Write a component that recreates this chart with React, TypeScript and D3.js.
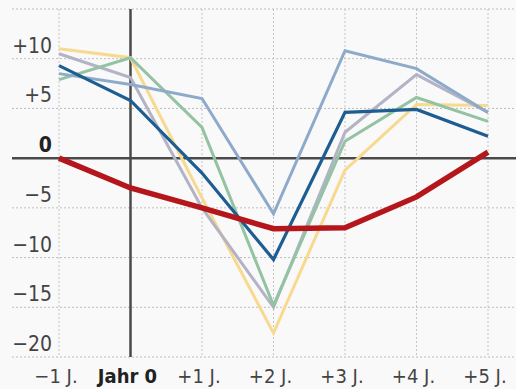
import React from "react";
import * as d3 from "d3";

// Year relative to the event
const years = ["-1", "0", "+1", "+2", "+3", "+4", "+5"];
const yearLabels = ["\u22121 J.", "Jahr 0", "+1 J.", "+2 J.", "+3 J.", "+4 J.", "+5 J."];

// y-axis ticks
const yTicks = [10, 5, 0, -5, -10, -15, -20];
const yTickLabels = ["+10", "+5", "0", "\u22125", "\u221210", "\u221215", "\u221220"];
const gridTicks = [15, 10, 5, -5, -10, -15, -20];

// Series values (percent change)
const seriesYellow = [11.0, 10.1, -4.0, -17.6, -1.2, 5.4, 5.3];
const seriesGray = [10.5, 8.1, -5.0, -15.0, 2.6, 8.4, 4.6];
const seriesGreen = [7.9, 10.1, 3.1, -14.8, 1.7, 6.1, 3.7];
const seriesLightBlue = [8.5, 7.4, 6.0, -5.6, 10.8, 9.0, 4.6];
const seriesDarkBlue = [9.3, 5.8, -1.5, -10.2, 4.6, 4.9, 2.2];
const seriesRed = [0, -3.0, -5.0, -7.1, -7.0, -3.9, 0.6];

const W = 516;
const H = 389;

const x = d3.scalePoint<string>().domain(years).range([59, 488]);
const y = d3.scaleLinear().domain([-20, 15]).range([357, 9]);

const line = d3
  .line<number>()
  .x((_, i) => x(years[i]) as number)
  .y((d) => y(d));

const series = [
  { values: seriesYellow, color: "#f7d98f", width: 3 },
  { values: seriesGray, color: "#b3b3c6", width: 3 },
  { values: seriesGreen, color: "#93c3a3", width: 3 },
  { values: seriesLightBlue, color: "#8eaacb", width: 3 },
  { values: seriesDarkBlue, color: "#1d5d92", width: 3.2 },
  { values: seriesRed, color: "#b5161b", width: 5.5 },
];

const font = "'Liberation Sans Narrow', 'DejaVu Sans Condensed', 'Liberation Sans', sans-serif";

export default function App() {
  const x0 = 12;
  return (
    <svg
      width={W}
      height={H}
      style={{ position: "absolute", left: 0, top: 0, background: "#f9f9f9" }}
    >
      {/* horizontal dotted grid */}
      {gridTicks.map((t) => (
        <line
          key={"h" + t}
          x1={x0}
          x2={W}
          y1={y(t)}
          y2={y(t)}
          stroke="#bdbdbd"
          strokeWidth={1}
          strokeDasharray="2,2"
        />
      ))}
      {/* vertical dotted grid */}
      {years
        .filter((d) => d !== "0")
        .map((d) => (
          <line
            key={"v" + d}
            x1={x(d)}
            x2={x(d)}
            y1={y(15)}
            y2={y(-20)}
            stroke="#c4c4c4"
            strokeWidth={1}
            strokeDasharray="2,2"
          />
        ))}
      {/* zero line and year-0 line */}
      <line x1={x0} x2={W} y1={y(0)} y2={y(0)} stroke="#4a4a4a" strokeWidth={2.5} />
      <line x1={x("0")} x2={x("0")} y1={y(15)} y2={y(-20)} stroke="#4a4a4a" strokeWidth={2.5} />

      {/* series */}
      {series.map((s, i) => (
        <path
          key={i}
          d={line(s.values) as string}
          fill="none"
          stroke={s.color}
          strokeWidth={s.width}
          strokeLinejoin="miter"
        />
      ))}

      {/* y labels */}
      {yTicks.map((t, i) => (
        <text
          key={"yl" + t}
          x={52}
          y={y(t) - 6}
          textAnchor="end"
          fontFamily={font}
          fontSize={21}
          fontWeight={t === 0 ? 700 : 400}
          fill={t === 0 ? "#222" : "#444"}
        >
          {yTickLabels[i]}
        </text>
      ))}

      {/* x labels */}
      {years.map((d, i) => (
        <text
          key={"xl" + d}
          x={(x(d) as number) - 3}
          y={383}
          textAnchor="middle"
          fontFamily={font}
          fontSize={20}
          fontWeight={d === "0" ? 700 : 400}
          fill={d === "0" ? "#222" : "#444"}
        >
          {yearLabels[i]}
        </text>
      ))}
    </svg>
  );
}
